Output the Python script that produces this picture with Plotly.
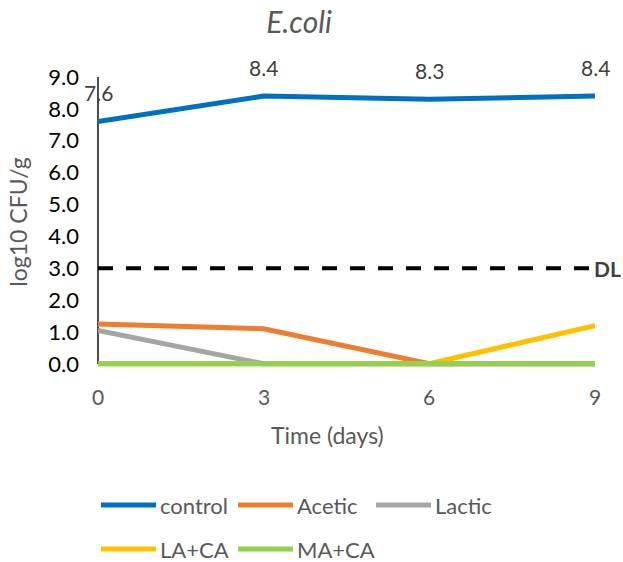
import plotly.graph_objects as go

# Storage time (days) and log10 CFU/g counts per treatment
days = [0, 3, 6, 9]
series_names = ["control", "Acetic", "Lactic", "LA+CA", "MA+CA"]
control = [7.6, 8.4, 8.3, 8.4]
acetic = [1.25, 1.1, 0.0, 0.0]
lactic = [1.05, 0.0, 0.0, 0.0]
la_ca = [0.0, 0.0, 0.0, 1.2]
ma_ca = [0.0, 0.0, 0.0, 0.0]
detection_limit = 3.0
y_ticks = [0, 1, 2, 3, 4, 5, 6, 7, 8, 9]

colors = ["#0070C0", "#ED7D31", "#A5A5A5", "#FFC000", "#92D050"]
values = [control, acetic, lactic, la_ca, ma_ca]

FONT = "Lato"
W, H = 623, 562
# small pad below zero so the thick zero-level line is not clipped
Y_RANGE = [-0.1, 9.0]
ML, MR, MT = 98, 28, 77
PH = round(287 * (Y_RANGE[1] - Y_RANGE[0]) / 9.0)
MB = H - MT - PH
PW = W - ML - MR


def px_to_paper(px, py):
    return (px - ML) / PW, (H - MB - py) / PH


fig = go.Figure()

# Detection limit
fig.add_trace(go.Scatter(
    x=[days[0], days[-1]], y=[detection_limit, detection_limit],
    mode="lines", line=dict(color="black", width=4, dash="15px,13px"),
    showlegend=False, hoverinfo="skip", cliponaxis=False,
))

for name, vals, col in zip(series_names, values, colors):
    fig.add_trace(go.Scatter(
        x=days, y=vals, mode="lines", name=name,
        line=dict(color=col, width=5),
        showlegend=False, cliponaxis=False,
    ))

annotations = []
# Value labels on the control series
for d, v in zip(days, control):
    annotations.append(dict(
        x=d, y=v, xref="x", yref="y", text=f"{v:.1f}", showarrow=False,
        yshift=29, font=dict(family=FONT, size=21, color="#404040"),
    ))
annotations.append(dict(
    x=days[-1], y=detection_limit, xref="x", yref="y", text="<b>DL</b>",
    showarrow=False, xanchor="left", xshift=-3,
    font=dict(family=FONT, size=21, color="#404040"),
))

# X tick labels and axis title
for d in days:
    annotations.append(dict(
        x=d, y=0, xref="x", yref="y", text=str(d), showarrow=False,
        yanchor="middle", yshift=-33,
        font=dict(family=FONT, size=21, color="#595959"),
    ))
tx, ty = px_to_paper(327, 435)
annotations.append(dict(
    x=tx, y=ty, xref="paper", yref="paper", text="Time (days)", showarrow=False,
    xanchor="center", yanchor="middle",
    font=dict(family=FONT, size=23, color="#595959"),
))

# Legend: line swatch followed by the series name, two rows
shapes = []
legend_pos = [(101, 505), (238, 505), (376, 505), (101, 549), (238, 549)]

for (lx, ly), name, col in zip(legend_pos, series_names, colors):
    x0, y0 = px_to_paper(lx, ly)
    x1, _ = px_to_paper(lx + 55, ly)
    shapes.append(dict(type="line", xref="paper", yref="paper",
                       x0=x0, x1=x1, y0=y0, y1=y0,
                       line=dict(color=col, width=5)))
    lx2, _ = px_to_paper(lx + 57, ly)
    annotations.append(dict(
        x=lx2, y=y0, xref="paper", yref="paper", text=name, showarrow=False,
        xanchor="left", yanchor="middle",
        font=dict(family=FONT, size=22, color="#595959"),
    ))

# Vertical value axis line (0 to 9 on the value scale)
_, ax_bot = px_to_paper(ML, 364)
_, ax_top = px_to_paper(ML, 77)
shapes.append(dict(type="line", xref="paper", yref="paper", x0=0, x1=0,
                   y0=ax_bot, y1=ax_top, layer="below",
                   line=dict(color="#3a3a3a", width=1.8)))

fig.update_layout(
    width=W, height=H,
    margin=dict(l=ML, r=MR, t=MT, b=MB),
    paper_bgcolor="white", plot_bgcolor="white",
    showlegend=False,
    title=dict(text="<i>E.coli</i>", x=0.48, xanchor="center", y=0.96, yanchor="middle",
               font=dict(family=FONT, size=30, color="#595959")),
    xaxis=dict(
        range=[0, 9], showticklabels=False,
        showgrid=False, zeroline=False, showline=False, ticks="",
    ),
    yaxis=dict(
        range=Y_RANGE, tickvals=y_ticks, ticktext=[f"{t:.1f}" for t in y_ticks],
        showgrid=False, zeroline=False, showline=False, ticks="",
        ticklabelstandoff=18,
        tickfont=dict(family=FONT, size=22, color="black"),
        title=dict(text="log10 CFU/g", standoff=14,
                   font=dict(family=FONT, size=23, color="#595959")),
    ),
    shapes=shapes,
    annotations=annotations,
)

fig.write_html("out.html")
